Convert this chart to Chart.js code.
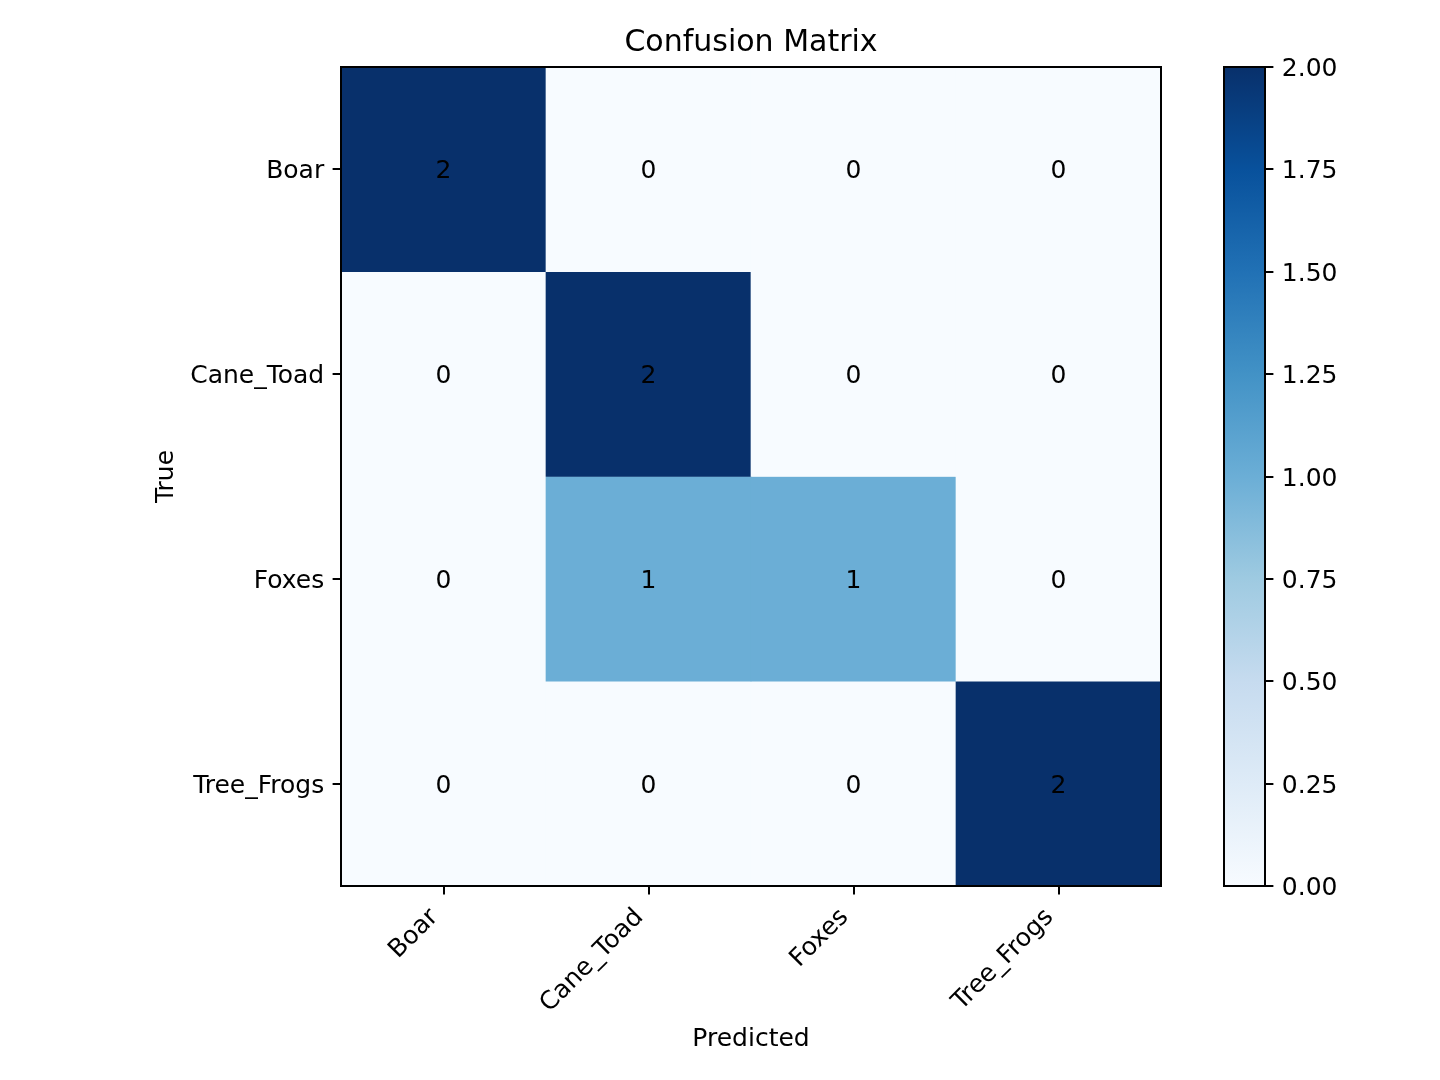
<!DOCTYPE html>
<html><head><meta charset="utf-8">
<script src="https://cdn.jsdelivr.net/npm/chart.js@4.4.1/dist/chart.umd.min.js"></script>
<style>
html,body{margin:0;padding:0;background:#fff;}
#wrap{position:relative;width:1440px;height:1080px;}
canvas{position:absolute;left:0;top:0;}
</style>
</head><body>
<div id="wrap"><canvas id="main" width="1440" height="1080"></canvas><canvas id="cbar" width="1440" height="1080"></canvas></div>
<script>
// ---- data ----
const predictedLabels = ['Boar', 'Cane_Toad', 'Foxes', 'Tree_Frogs'];
const trueLabels = ['Boar', 'Cane_Toad', 'Foxes', 'Tree_Frogs'];
const boarRow = [2, 0, 0, 0];
const caneToadRow = [0, 2, 0, 0];
const foxesRow = [0, 1, 1, 0];
const treeFrogsRow = [0, 0, 0, 2];
const colorbarMin = 0;
const colorbarMax = 2;
const colorbarStep = 0.25;

const matrixRows = [boarRow, caneToadRow, foxesRow, treeFrogsRow];

// ---- style ----
const BLUES = ['#f7fbff','#deebf7','#c6dbef','#9ecae1','#6baed6','#4292c6','#2171b5','#08519c','#08306b'];
function hexToRgb(h){ const n = parseInt(h.slice(1), 16); return [(n>>16)&255, (n>>8)&255, n&255]; }
function blues(t){
  t = Math.max(0, Math.min(1, t));
  const pos = t * (BLUES.length - 1);
  const i = Math.min(Math.floor(pos), BLUES.length - 2);
  const f = pos - i;
  const a = hexToRgb(BLUES[i]), b = hexToRgb(BLUES[i+1]);
  const c = a.map((v, k) => Math.round(v + (b[k] - v) * f));
  return `rgb(${c[0]},${c[1]},${c[2]})`;
}
const TICK_FONT = 25;
const TITLE_FONT = 30;
const TICK_LEN = 8.4;
const TICK_PAD = 8.4;
const TEXT_SHIFT = 2.5;

Chart.defaults.font.family = "'DejaVu Sans', sans-serif";
Chart.defaults.color = '#000';
Chart.defaults.font.size = TICK_FONT;

const framePlugin = {
  id: 'frame',
  afterDraw(chart){
    const {ctx, chartArea: a} = chart;
    ctx.save();
    ctx.strokeStyle = '#000';
    ctx.lineWidth = 2;
    ctx.strokeRect(a.left, a.top, a.right - a.left, a.bottom - a.top);
    ctx.restore();
  }
};

const cellTextPlugin = {
  id: 'cellText',
  afterDatasetsDraw(chart){
    const ctx = chart.ctx;
    ctx.save();
    ctx.font = `${TICK_FONT}px 'DejaVu Sans', sans-serif`;
    ctx.fillStyle = '#000';
    ctx.textAlign = 'center';
    ctx.textBaseline = 'middle';
    chart.data.datasets.forEach((ds, r) => {
      const meta = chart.getDatasetMeta(r);
      meta.data.forEach((el, c) => {
        const p = el.getProps(['x', 'y', 'base'], true);
        ctx.fillText(String(matrixRows[r][c]), p.x, (p.y + p.base) / 2 + TEXT_SHIFT);
      });
    });
    ctx.restore();
  }
};

const cellDatasets = matrixRows.map((row, r) => ({
  label: trueLabels[r],
  data: row.map(() => [r, r + 1]),
  backgroundColor: row.map(v => blues((v - colorbarMin) / (colorbarMax - colorbarMin))),
  borderWidth: 0,
  barPercentage: 1,
  categoryPercentage: 1,
  grouped: false
}));

new Chart(document.getElementById('main'), {
  type: 'bar',
  data: { labels: predictedLabels, datasets: cellDatasets },
  options: {
    responsive: false,
    animation: false,
    devicePixelRatio: 1,
    layout: { padding: { left: 0, right: 279, top: 0, bottom: 0 } },
    plugins: {
      legend: { display: false },
      tooltip: { enabled: false },
      title: {
        display: true, text: 'Confusion Matrix', fullSize: false, color: '#000',
        font: { size: TITLE_FONT, weight: 'normal' },
        padding: { top: 25, bottom: 6 }
      }
    },
    scales: {
      x: {
        type: 'category',
        offset: true,
        grid: { display: true, drawOnChartArea: false, drawTicks: true, tickLength: TICK_LEN, offset: false,
                color: '#000', tickColor: '#000', lineWidth: 2, tickWidth: 2 },
        border: { display: false },
        ticks: { minRotation: 45, maxRotation: 45, autoSkip: false, padding: TICK_PAD, labelOffset: -9,
                 color: '#000', font: { size: TICK_FONT } },
        title: { display: true, text: 'Predicted', color: '#000', font: { size: TICK_FONT }, padding: { top: 0, bottom: 26 } },
        afterFit(s){ s.height = 194; }
      },
      y: {
        type: 'linear',
        min: 0, max: trueLabels.length,
        reverse: true,
        grid: { display: true, drawOnChartArea: false, drawTicks: true, tickLength: TICK_LEN,
                color: '#000', tickColor: '#000', lineWidth: 2, tickWidth: 2 },
        border: { display: false },
        afterBuildTicks(s){ s.ticks = trueLabels.map((_, i) => ({ value: i + 0.5 })); },
        ticks: { autoSkip: false, padding: TICK_PAD, labelOffset: TEXT_SHIFT, color: '#000', font: { size: TICK_FONT },
                 callback: (v, i) => trueLabels[i] },
        title: { display: true, text: 'True', color: '#000', font: { size: TICK_FONT }, padding: { top: 151, bottom: 0 } },
        afterFit(s){ s.width = 341; }
      }
    }
  },
  plugins: [cellTextPlugin, framePlugin]
});

new Chart(document.getElementById('cbar'), {
  type: 'bar',
  data: {
    labels: ['colorbar'],
    datasets: [{
      data: [[colorbarMin, colorbarMax]],
      borderWidth: 0,
      barPercentage: 1,
      categoryPercentage: 1,
      backgroundColor: (c) => {
        const chart = c.chart;
        if (!chart.chartArea || !chart.scales.y) return BLUES[0];
        const y = chart.scales.y;
        const g = chart.ctx.createLinearGradient(0, y.getPixelForValue(colorbarMin), 0, y.getPixelForValue(colorbarMax));
        BLUES.forEach((col, i) => g.addColorStop(i / (BLUES.length - 1), col));
        return g;
      }
    }]
  },
  options: {
    responsive: false,
    animation: false,
    devicePixelRatio: 1,
    layout: { padding: { left: 1224, right: 0, top: 67, bottom: 194 } },
    plugins: { legend: { display: false }, tooltip: { enabled: false } },
    scales: {
      x: { display: false },
      y: {
        position: 'right',
        min: colorbarMin, max: colorbarMax,
        grid: { display: true, drawOnChartArea: false, drawTicks: true, tickLength: TICK_LEN,
                color: '#000', tickColor: '#000', lineWidth: 2, tickWidth: 2 },
        border: { display: false },
        ticks: { stepSize: colorbarStep, autoSkip: false, padding: TICK_PAD, labelOffset: TEXT_SHIFT,
                 color: '#000', font: { size: TICK_FONT },
                 callback: (v) => Number(v).toFixed(2) },
        afterFit(s){ s.width = 175; }
      }
    }
  },
  plugins: [framePlugin]
});
</script>
</body></html>
